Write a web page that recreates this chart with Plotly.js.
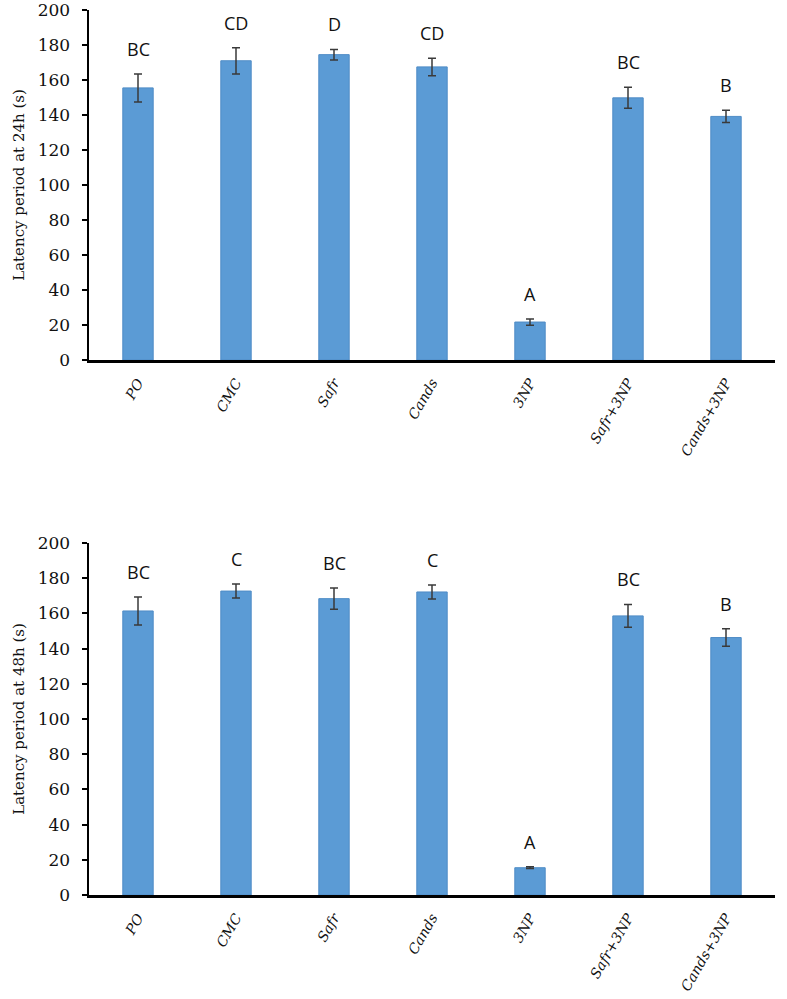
<!DOCTYPE html>
<html>
<head>
<meta charset="utf-8">
<script src="https://cdn.plot.ly/plotly-3.0.1.min.js"></script>
<style>html,body{margin:0;padding:0;background:#fff;}#chart{width:787px;height:999px;}</style>
</head>
<body>
<div id="chart"></div>
<script>
const categories = ["PO", "CMC", "Safr", "Cands", "3NP", "Safr+3NP", "Cands+3NP"];
const latency24 = [155.5, 171, 174.5, 167.5, 21.7, 149.8, 139.2];
const err24 = [8, 7.5, 3, 5, 1.8, 6, 3.5];
const letters24 = ["BC", "CD", "D", "CD", "A", "BC", "B"];
const latency48 = [161.4, 172.7, 168.4, 172.2, 15.5, 158.6, 146.3];
const err48 = [8, 4, 6, 4, 0.5, 6.5, 5];
const letters48 = ["BC", "C", "BC", "C", "A", "BC", "B"];
const yTitle24 = "Latency period at 24h (s)";
const yTitle48 = "Latency period at 48h (s)";

const barColor = "#5B9BD5";
function barTrace(vals, errs, xa, ya) {
  return {
    type: "bar", x: categories, y: vals, xaxis: xa, yaxis: ya,
    marker: {color: barColor, line: {color: "#4F8CC6", width: 1}},
    error_y: {type: "data", array: errs, visible: true, color: "#3a3a3a", thickness: 1.5, width: 4},
    hoverinfo: "none", showlegend: false
  };
}
const annotations = [];
function addLetters(letters, vals, errs, xref, yref) {
  letters.forEach((t, i) => {
    annotations.push({
      text: t, x: categories[i], y: vals[i] + errs[i], xref: xref, yref: yref,
      showarrow: false, yanchor: "middle", yshift: 25,
      font: {family: "Open Sans, Liberation Sans, sans-serif", size: 18, color: "#111"}
    });
  });
}
addLetters(letters24, latency24, err24, "x", "y");
addLetters(letters48, latency48, err48, "x2", "y2");

const xCommon = {
  type: "category", range: [-0.5, 6.5], showline: true, linecolor: "#000", linewidth: 3,
  ticks: "outside", ticklen: 6, tickcolor: "rgba(0,0,0,0)", tickangle: -60, showgrid: false, zeroline: false,
  tickfont: {family: "DejaVu Serif, Liberation Serif, serif", size: 14, style: "italic", color: "#111"}
};
const yCommon = {
  range: [0, 200], dtick: 20, showline: true, linecolor: "#000", linewidth: 2.5,
  ticks: "outside", ticklen: 5, tickwidth: 2, tickcolor: "#000", showgrid: false, zeroline: false,
  ticklabeloverflow: "allow", ticklabelstandoff: 8,
  tickfont: {family: "DejaVu Serif, Liberation Serif, serif", size: 17, color: "#111"}
};
const titleFont = {family: "DejaVu Serif, Liberation Serif, serif", size: 15, color: "#111"};

const layout = {
  width: 787, height: 999,
  margin: {l: 89, r: 12, t: 10, b: 104},
  paper_bgcolor: "#fff", plot_bgcolor: "#fff",
  bargap: 0.69,
  xaxis: Object.assign({}, xCommon, {anchor: "y", domain: [0, 1]}),
  yaxis: Object.assign({}, yCommon, {anchor: "x", domain: [0.6045, 1], title: {text: yTitle24, font: titleFont, standoff: 10}}),
  xaxis2: Object.assign({}, xCommon, {anchor: "y2", domain: [0, 1]}),
  yaxis2: Object.assign({}, yCommon, {anchor: "x2", domain: [0, 0.3977], title: {text: yTitle48, font: titleFont, standoff: 10}}),
  annotations: annotations
};
Plotly.newPlot("chart", [barTrace(latency24, err24, "x", "y"), barTrace(latency48, err48, "x2", "y2")], layout, {staticPlot: true});
</script>
</body>
</html>
